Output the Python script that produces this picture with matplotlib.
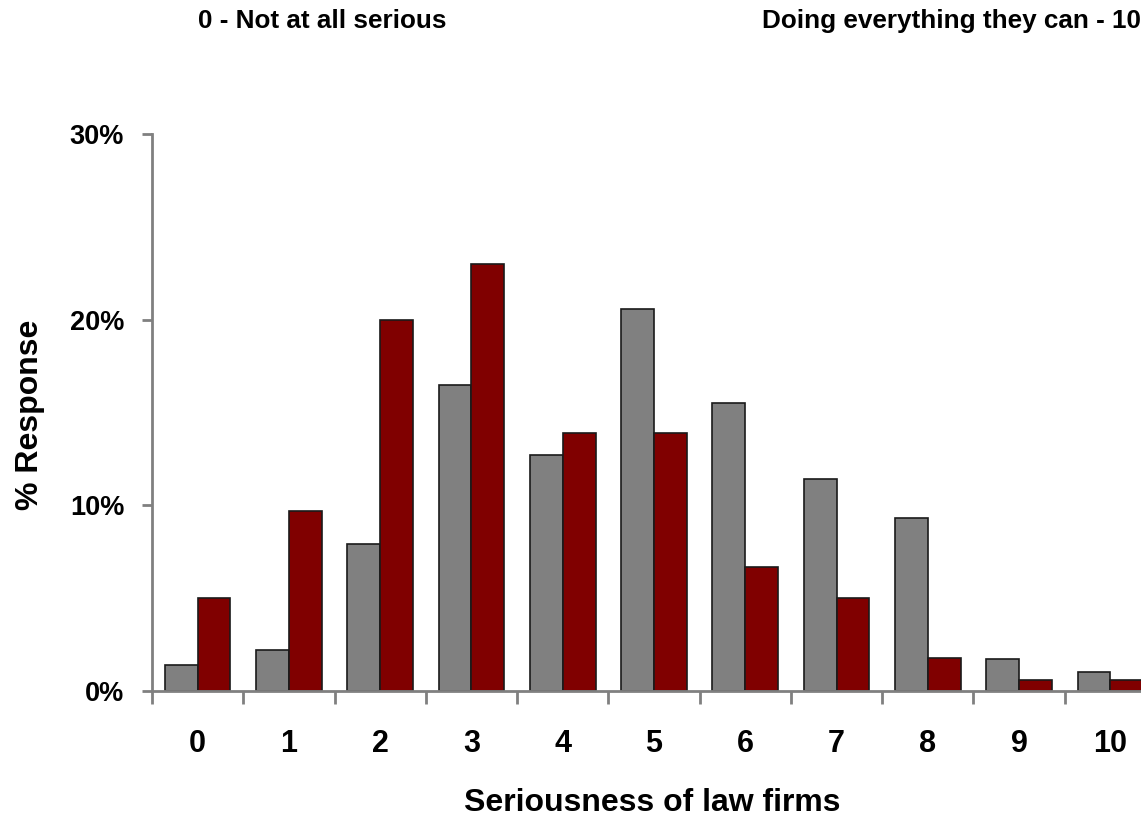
import matplotlib
matplotlib.use("Agg")
import matplotlib.pyplot as plt
import numpy as np
from matplotlib.ticker import FixedLocator, FuncFormatter

plt.rcParams['font.family'] = ['Liberation Sans', 'DejaVu Sans']

categories = ['0', '1', '2', '3', '4', '5', '6', '7', '8', '9', '10']
gray_values = [1.4, 2.2, 7.9, 16.5, 12.7, 20.6, 15.5, 11.4, 9.3, 1.7, 1.0]
red_values = [5.0, 9.7, 20.0, 23.0, 13.9, 13.9, 6.7, 5.0, 1.8, 0.6, 0.6]
yticks = [0, 10, 20, 30]

fig = plt.figure(figsize=(11.41, 8.18), dpi=100)
ax = fig.add_axes([152/1141, 1-691/818, (1156-152)/1141, (691-134)/818])

x = np.arange(len(categories))
w = 0.36
ax.bar(x - w/2, gray_values, width=w, color='#808080', edgecolor='#1a1a1a', linewidth=1.2, zorder=2)
ax.bar(x + w/2, red_values, width=w, color='#800000', edgecolor='#1a1a1a', linewidth=1.2, zorder=2)

ax.set_xlim(-0.5, len(categories) - 0.5)
ax.set_ylim(0, 30)
for s in ['top', 'right']:
    ax.spines[s].set_visible(False)
for s in ['left', 'bottom']:
    ax.spines[s].set_color('#808080')
    ax.spines[s].set_linewidth(2)

ax.set_yticks(yticks)
ax.yaxis.set_major_formatter(FuncFormatter(lambda v, p: f"{int(v)}%"))
ax.tick_params(axis='y', length=7, width=2, color='#808080', labelsize=19.5, pad=13)

ax.set_xticks(x)
ax.set_xticklabels(categories)
ax.xaxis.set_minor_locator(FixedLocator(np.arange(-0.5, len(categories), 1.0)))
ax.tick_params(axis='x', which='major', length=0, labelsize=22, pad=27)
ax.tick_params(axis='x', which='minor', length=9, width=2, color='#808080')

for lab in ax.get_xticklabels() + ax.get_yticklabels():
    lab.set_fontweight('bold')

ax.set_xlabel('Seriousness of law firms', fontsize=23, fontweight='bold', va='center')
ax.xaxis.set_label_coords((652 - 152) / 1004, (691 - 803) / 557)
ax.set_ylabel('% Response', fontsize=23, fontweight='bold', va='center')
ax.yaxis.set_label_coords((30 - 152) / 1004, (691 - 415) / 557)

fig.text(322/1141, 1-21/818, '0 - Not at all serious', ha='center', va='center', fontsize=18.8, fontweight='bold')
fig.text(1141/1141, 1-21/818, 'Doing everything they can - 10', ha='right', va='center', fontsize=18.8, fontweight='bold')

fig.savefig('out.png', dpi=100)
